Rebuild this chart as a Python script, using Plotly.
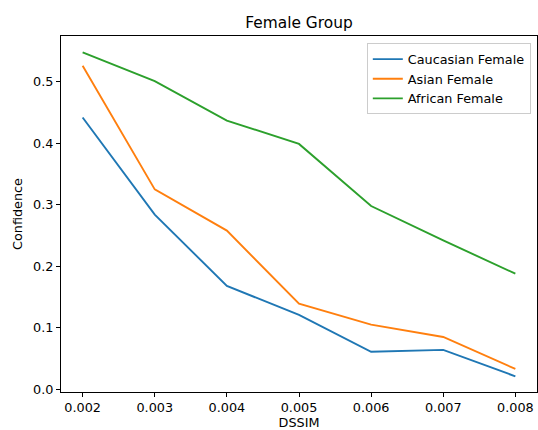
import plotly.graph_objects as go

dssim = [0.002, 0.003, 0.004, 0.005, 0.006, 0.007, 0.008]
caucasian_female = [0.442, 0.284, 0.168, 0.121, 0.061, 0.064, 0.021]
asian_female = [0.526, 0.325, 0.258, 0.139, 0.105, 0.085, 0.033]
african_female = [0.548, 0.501, 0.437, 0.399, 0.298, 0.242, 0.188]

series = [
    ("Caucasian Female", caucasian_female, "#1f77b4"),
    ("Asian Female", asian_female, "#ff7f0e"),
    ("African Female", african_female, "#2ca02c"),
]

FONT = "DejaVu Sans"
fig = go.Figure()
for name, vals, color in series:
    fig.add_trace(go.Scatter(x=dssim, y=vals, mode="lines", name=name,
                             line=dict(color=color, width=1.9)))

axis_common = dict(showline=True, linecolor="black", linewidth=1, mirror=True,
                   ticks="outside", ticklen=4, tickwidth=1, tickcolor="black",
                   showgrid=False, zeroline=False, automargin=False,
                   tickfont=dict(family=FONT, size=12.8, color="black"))

fig.update_layout(
    width=538, height=430,
    margin=dict(l=61, r=1, t=36, b=38),
    paper_bgcolor="white", plot_bgcolor="white",
    font=dict(family=FONT, color="black"),
    title=dict(text="Female Group", x=0.5, xref="paper", xanchor="center",
               y=1 - 23 / 430, yref="container", yanchor="middle",
               font=dict(family=FONT, size=15.4, color="black")),
    xaxis=dict(range=[0.0017, 0.0083], tickvals=dssim,
               ticktext=["0.002", "0.003", "0.004", "0.005", "0.006", "0.007", "0.008"],
               title=dict(text="DSSIM", font=dict(family=FONT, size=12.8), standoff=9),
               **axis_common),
    yaxis=dict(range=[-0.0045, 0.5745], tickvals=[0, 0.1, 0.2, 0.3, 0.4, 0.5],
               ticktext=["0.0", "0.1", "0.2", "0.3", "0.4", "0.5"],
               title=dict(text="Confidence", font=dict(family=FONT, size=12.8), standoff=7),
               **axis_common),
    legend=dict(x=0.987, xanchor="right", y=0.9795, yanchor="top",
                bgcolor="rgba(255,255,255,0.8)", bordercolor="#cccccc", borderwidth=1,
                font=dict(family=FONT, size=12.8, color="black"),
                tracegroupgap=0),
    showlegend=True,
)

fig.write_html("out.html", config={"displayModeBar": False},
               post_script="document.body.style.margin='0px';")
